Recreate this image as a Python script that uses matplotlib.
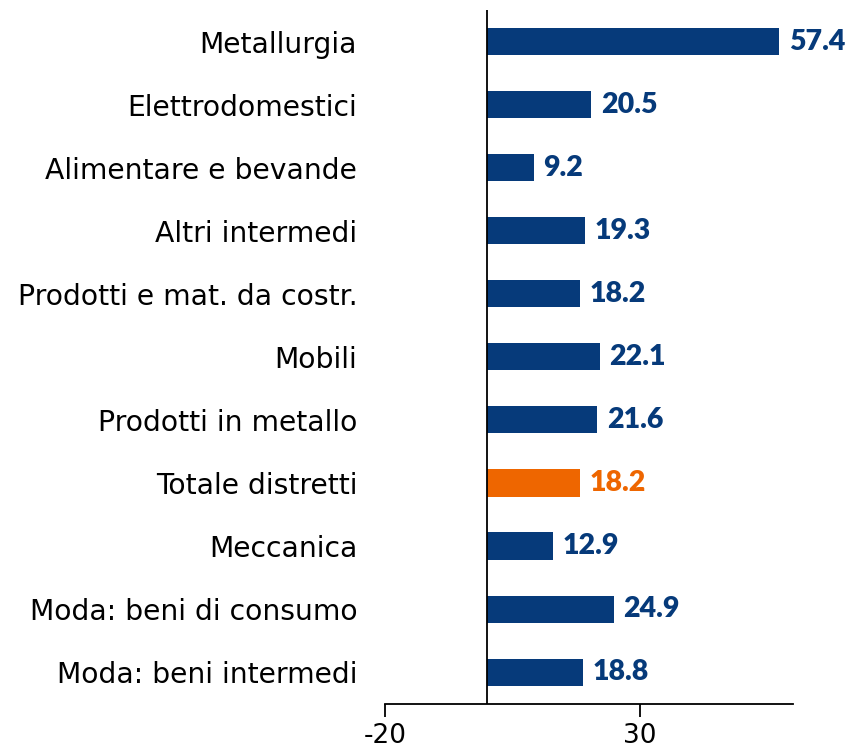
import matplotlib.pyplot as plt

plt.rcParams['font.family'] = ['DejaVu Sans']

categories = ["Metallurgia", "Elettrodomestici", "Alimentare e bevande",
              "Altri intermedi", "Prodotti e mat. da costr.", "Mobili",
              "Prodotti in metallo", "Totale distretti", "Meccanica",
              "Moda: beni di consumo", "Moda: beni intermedi"]
values = [57.4, 20.5, 9.2, 19.3, 18.2, 22.1, 21.6, 18.2, 12.9, 24.9, 18.8]
highlight = "Totale distretti"
xticks = [-20, 30]

blue = "#063A7A"
orange = "#EE6600"

fig = plt.figure(figsize=(8.5, 7.53), dpi=100)
ax = fig.add_axes([0.4529, 0.0655, 0.4797, 0.9212])

ypos = list(range(len(categories)))[::-1]
colors = [orange if c == highlight else blue for c in categories]
ax.barh(ypos, values, height=0.43, color=colors)

for y, v, c in zip(ypos, values, colors):
    ax.text(v + 1.9, y, f"{v:.1f}", va="center", ha="left",
            fontsize=20.5, fontweight="heavy", color=c, family=["Lato", "DejaVu Sans"])

ax.axvline(0, color="black", linewidth=1.3)

ax.set_xlim(-20, 60)
ax.set_ylim(-0.5, len(categories) - 0.5)
ax.set_yticks(ypos)
ax.set_yticklabels(categories, fontsize=20.3)
ax.tick_params(axis="y", length=0, pad=20)
ax.set_xticks(xticks)
ax.set_xticklabels([str(t) for t in xticks], fontsize=19)
ax.tick_params(axis="x", direction="out", length=9, width=1.3, pad=5)

for s in ["top", "right", "left"]:
    ax.spines[s].set_visible(False)
ax.spines["bottom"].set_linewidth(1.3)

fig.savefig("out.png", dpi=100)
